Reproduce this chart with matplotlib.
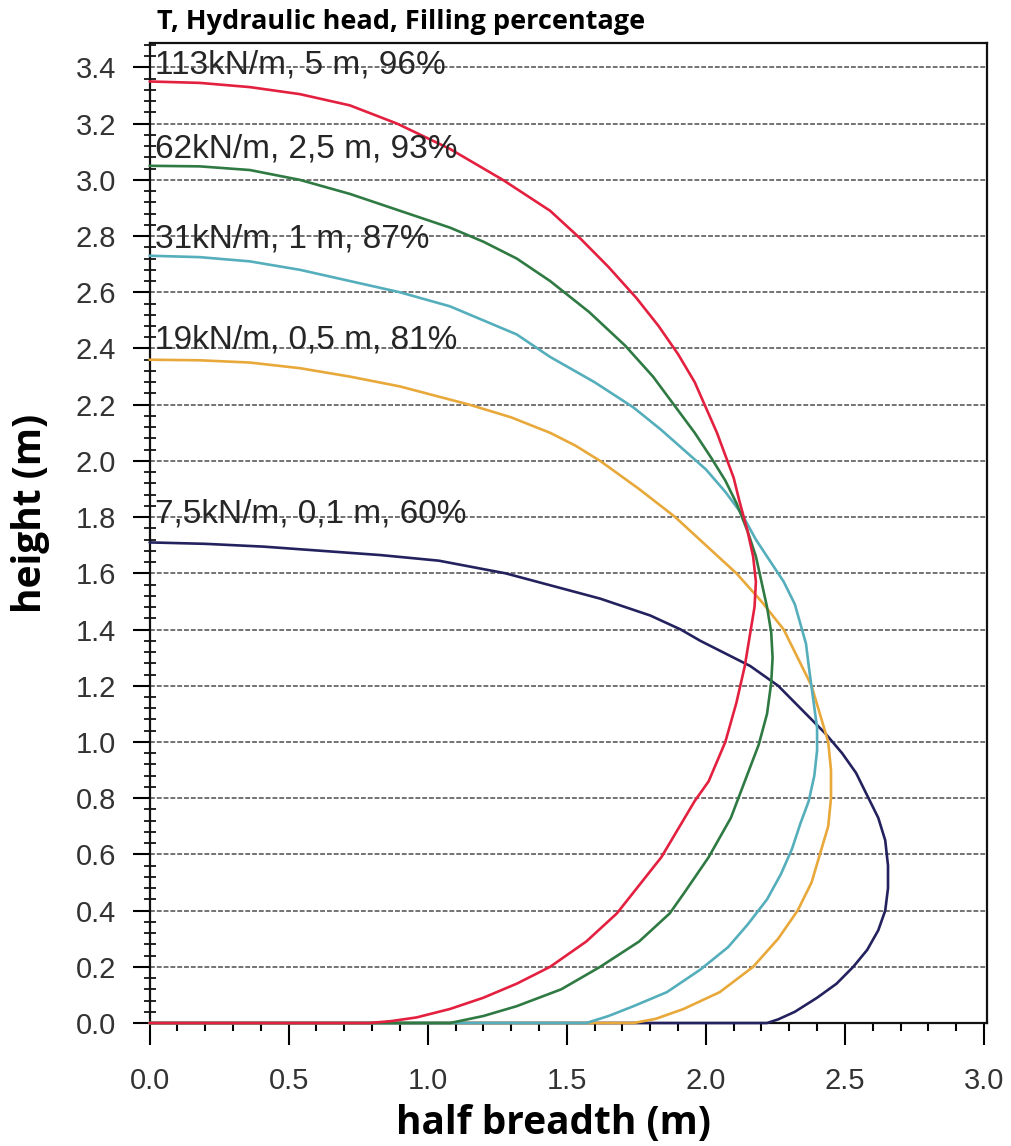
import matplotlib
matplotlib.use("Agg")
import matplotlib.pyplot as plt
from matplotlib.ticker import MultipleLocator, FormatStrFormatter

# ---- data ----
red_x = [0.0, 0.18, 0.36, 0.54, 0.72, 0.89, 1.08, 1.27, 1.44, 1.55, 1.65, 1.75, 1.83, 1.90, 1.96, 2.00, 2.04, 2.07,
         2.10, 2.12, 2.15, 2.17, 2.18, 2.175, 2.16, 2.14, 2.11, 2.07, 2.01, 1.96, 1.90, 1.84, 1.76, 1.68, 1.57, 1.44,
         1.32, 1.20, 1.08, 0.96, 0.87, 0.79, 0.0]
red_y = [3.35, 3.345, 3.33, 3.305, 3.265, 3.20, 3.11, 3.00, 2.89, 2.79, 2.69, 2.58, 2.48, 2.38, 2.28, 2.19, 2.10, 2.02,
         1.94, 1.86, 1.75, 1.66, 1.57, 1.48, 1.39, 1.27, 1.14, 1.00, 0.86, 0.79, 0.69, 0.59, 0.49, 0.39, 0.29, 0.20,
         0.14, 0.09, 0.05, 0.02, 0.007, 0.0, 0.0]

green_x = [0.0, 0.18, 0.36, 0.54, 0.72, 0.90, 1.08, 1.20, 1.32, 1.44, 1.58, 1.71, 1.81, 1.90, 1.96, 2.02, 2.07, 2.11,
           2.15, 2.18, 2.20, 2.22, 2.235, 2.24, 2.235, 2.22, 2.19, 2.14, 2.09, 2.01, 1.92, 1.87, 1.76, 1.62, 1.48,
           1.32, 1.20, 1.08, 0.0]
green_y = [3.05, 3.048, 3.035, 3.00, 2.95, 2.89, 2.83, 2.78, 2.72, 2.64, 2.53, 2.41, 2.30, 2.18, 2.10, 2.01, 1.93, 1.85,
           1.75, 1.66, 1.57, 1.48, 1.39, 1.30, 1.21, 1.10, 0.99, 0.86, 0.73, 0.59, 0.46, 0.39, 0.29, 0.20, 0.12,
           0.06, 0.025, 0.0, 0.0]

cyan_x = [0.0, 0.18, 0.36, 0.54, 0.72, 0.90, 1.08, 1.32, 1.44, 1.60, 1.74, 1.84, 1.92, 2.00, 2.07, 2.13, 2.18, 2.23,
          2.28, 2.32, 2.34, 2.36, 2.37, 2.385, 2.40, 2.40, 2.39, 2.37, 2.34, 2.31, 2.27, 2.22, 2.15, 2.08, 1.98,
          1.86, 1.74, 1.65, 1.57, 0.0]
cyan_y = [2.73, 2.725, 2.71, 2.68, 2.64, 2.60, 2.55, 2.45, 2.37, 2.28, 2.19, 2.11, 2.04, 1.97, 1.89, 1.81, 1.72, 1.645,
          1.57, 1.49, 1.42, 1.35, 1.27, 1.16, 1.05, 0.97, 0.88, 0.79, 0.71, 0.62, 0.53, 0.44, 0.35, 0.27, 0.19,
          0.11, 0.06, 0.025, 0.0, 0.0]

orange_x = [0.0, 0.18, 0.36, 0.54, 0.72, 0.90, 1.15, 1.30, 1.44, 1.53, 1.62, 1.76, 1.89, 2.00, 2.11, 2.20, 2.28, 2.33,
            2.38, 2.41, 2.44, 2.45, 2.45, 2.44, 2.41, 2.38, 2.33, 2.26, 2.17, 2.05, 1.92, 1.82, 1.74, 0.0]
orange_y = [2.36, 2.358, 2.35, 2.33, 2.30, 2.265, 2.20, 2.155, 2.10, 2.055, 2.00, 1.90, 1.80, 1.70, 1.60, 1.50, 1.40,
            1.30, 1.20, 1.10, 1.00, 0.90, 0.80, 0.70, 0.60, 0.50, 0.40, 0.30, 0.20, 0.11, 0.05, 0.015, 0.0, 0.0]

navy_x = [0.0, 0.20, 0.41, 0.62, 0.83, 1.04, 1.28, 1.45, 1.62, 1.80, 1.91, 1.98, 2.16, 2.26, 2.34, 2.43, 2.49, 2.54,
          2.58, 2.62, 2.645, 2.655, 2.655, 2.645, 2.62, 2.58, 2.53, 2.47, 2.40, 2.32, 2.26, 2.22, 0.0]
navy_y = [1.71, 1.705, 1.695, 1.68, 1.665, 1.645, 1.60, 1.555, 1.51, 1.45, 1.40, 1.36, 1.27, 1.20, 1.12, 1.03, 0.96,
          0.89, 0.81, 0.73, 0.65, 0.56, 0.48, 0.40, 0.33, 0.26, 0.20, 0.14, 0.09, 0.04, 0.013, 0.0, 0.0]

labels = ["113kN/m, 5 m, 96%", "62kN/m, 2,5 m, 93%", "31kN/m, 1 m, 87%",
          "19kN/m, 0,5 m, 81%", "7,5kN/m, 0,1 m, 60%"]
label_y = [3.41, 3.11, 2.79, 2.43, 1.81]

title = "T, Hydraulic head, Filling percentage"
xlabel = "half breadth (m)"
ylabel = "height (m)"

# ---- figure ----
fig = plt.figure(figsize=(10.11, 11.46), dpi=100)
ax = fig.add_axes([0.148, 0.1073, 0.828, 0.8552])

ax.set_xlim(0, 3.01)
ax.set_ylim(0, 3.487)

for yv in [0.2 * i for i in range(1, 18)]:
    ax.axhline(yv, color="#444444", lw=1.4, ls=(0, (2.5, 1.0)), alpha=0.75, zorder=1)

series = [(navy_x, navy_y, "#24225e"), (orange_x, orange_y, "#e8a83a"),
          (cyan_x, cyan_y, "#55aebb"), (green_x, green_y, "#2f7a43"),
          (red_x, red_y, "#e3203f")]
for xs, ys, c in series:
    ax.plot(xs, ys, color=c, lw=1.9, zorder=3, clip_on=False,
            solid_joinstyle="round", solid_capstyle="round")

for t, yv in zip(labels, label_y):
    ax.text(0.02, yv, t, fontsize=24, family="Liberation Sans", color="#262626",
            va="center", ha="left", zorder=4)

ax.xaxis.set_major_locator(MultipleLocator(0.5))
ax.xaxis.set_minor_locator(MultipleLocator(0.1))
ax.yaxis.set_major_locator(MultipleLocator(0.2))
ax.yaxis.set_minor_locator(MultipleLocator(0.04))
ax.xaxis.set_major_formatter(FormatStrFormatter("%.1f"))
ax.yaxis.set_major_formatter(FormatStrFormatter("%.1f"))

ax.tick_params(axis="x", which="major", direction="out", length=16, width=1.5, pad=16,
               labelsize=21, labelcolor="#333333")
ax.tick_params(axis="x", which="minor", direction="out", length=6, width=1.5)
ax.tick_params(axis="y", which="major", direction="out", length=12, width=1.5, pad=12,
               labelsize=21, labelcolor="#333333")
ax.tick_params(axis="y", which="minor", direction="inout", length=8, width=1.2)
for lab in ax.get_xticklabels() + ax.get_yticklabels():
    lab.set_family("Liberation Sans")

for s in ax.spines.values():
    s.set_linewidth(1.6)
    s.set_color("#111111")

ax.set_xlabel(xlabel, fontsize=28, fontweight="bold", family="Open Sans")
ax.set_ylabel(ylabel, fontsize=28, fontweight="bold", family="Open Sans")
# label positions in axes fraction
ax.xaxis.set_label_coords(0.482, -0.102)
ax.yaxis.set_label_coords(-0.142, 0.52)
ax.xaxis.label.set_va("center")
ax.yaxis.label.set_va("center")
fig.text(0.155, 0.981, title, fontsize=19.5, fontweight="bold", family="Open Sans",
         va="center", ha="left")

fig.savefig("out.png", dpi=100, facecolor="white")
